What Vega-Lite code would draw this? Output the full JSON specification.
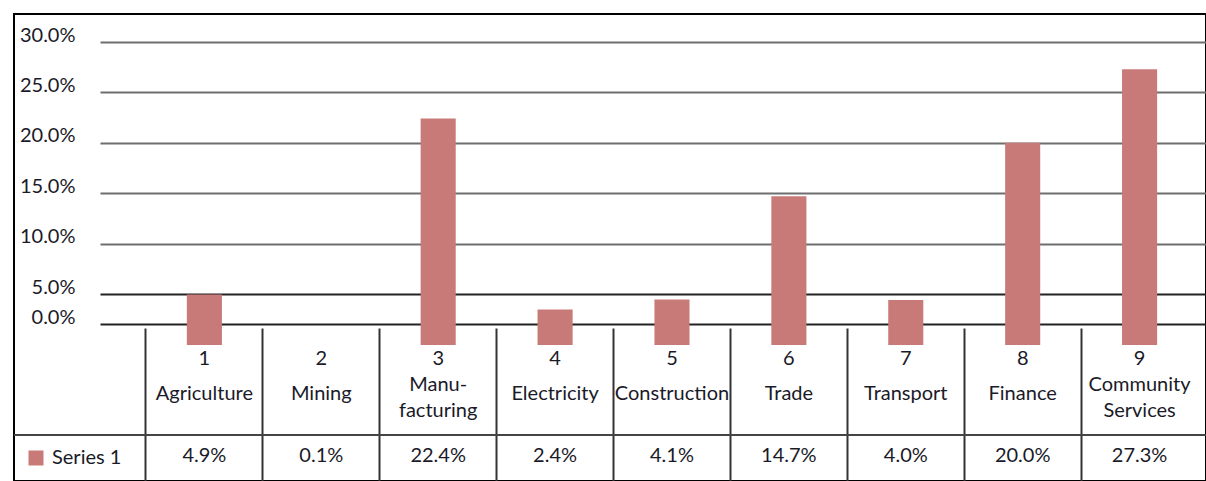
{
  "$schema": "https://vega.github.io/schema/vega-lite/v6.json",
  "width": 1192,
  "height": 467,
  "autosize": {"type": "none"},
  "padding": {"left": 14, "top": 14, "right": 0, "bottom": 0},
  "background": "white",
  "config": {
    "view": {"stroke": "#000000", "strokeWidth": 2},
    "font": "Lato",
    "text": {"font": "Lato", "fontSize": 20, "color": "#1a1a28"}
  },
  "data": {
    "values": [
      {"id": "1", "sector": "Agriculture", "share": 0.049, "series": "Series 1"},
      {"id": "2", "sector": "Mining", "share": 0.001, "series": "Series 1"},
      {"id": "3", "sector": "Manu-\nfacturing", "share": 0.224, "series": "Series 1"},
      {"id": "4", "sector": "Electricity", "share": 0.024, "series": "Series 1"},
      {"id": "5", "sector": "Construction", "share": 0.041, "series": "Series 1"},
      {"id": "6", "sector": "Trade", "share": 0.147, "series": "Series 1"},
      {"id": "7", "sector": "Transport", "share": 0.040, "series": "Series 1"},
      {"id": "8", "sector": "Finance", "share": 0.200, "series": "Series 1"},
      {"id": "9", "sector": "Community\nServices", "share": 0.273, "series": "Series 1"}
    ]
  },
  "encoding": {
    "x": {
      "field": "sector",
      "type": "nominal",
      "sort": null,
      "scale": {"range": [86, 1192], "paddingInner": 0, "paddingOuter": 0.2306, "align": 0.852},
      "axis": {
        "orient": "top",
        "offset": -467,
        "bandPosition": 0,
        "domain": false,
        "labels": false,
        "ticks": true,
        "tickSize": 153,
        "tickColor": "#333333",
        "tickWidth": 2,
        "grid": false,
        "title": null
      }
    }
  },
  "layer": [
    {
      "mark": {"type": "bar", "width": {"band": 0.3}},
      "encoding": {
        "y": {
          "field": "share",
          "type": "quantitative",
          "scale": {"domain": [-0.157, 0, 0.05, 0.30], "range": [467, 310, 280, 28], "nice": false, "zero": false},
          "axis": {
            "values": [0, 0.05, 0.1, 0.15, 0.2, 0.25, 0.3],
            "format": ".1%",
            "orient": "left",
            "offset": -61,
            "domain": false,
            "ticks": false,
            "labelPadding": 0,
            "labelOffset": -7,
            "labelFont": "Lato",
            "labelFontSize": 20,
            "labelColor": "#1a1a28",
            "grid": true,
            "gridWidth": 2,
            "gridColor": {"condition": {"test": "datum.value <= 0.05", "value": "#222222"}, "value": "#6e6e6e"},
            "gridOpacity": 1,
            "title": null
          }
        },
        "y2": {"datum": -0.021},
        "opacity": {"condition": {"test": "datum.share < 0.005", "value": 0}, "value": 1},
        "color": {
          "field": "series",
          "type": "nominal",
          "scale": {"range": ["#c87a78"]},
          "legend": {
            "orient": "none",
            "legendX": 12,
            "legendY": 434,
            "title": null,
            "padding": 0,
            "symbolType": "square",
            "symbolSize": 225,
            "symbolStrokeWidth": 0,
            "symbolOpacity": 1,
            "labelFont": "Lato",
            "labelFontSize": 20,
            "labelColor": "#1a1a28",
            "labelOffset": 6
          }
        }
      }
    },
    {
      "mark": {"type": "rule", "color": "#444444", "strokeWidth": 2},
      "encoding": {"x": null, "y": {"datum": -0.111}}
    },
    {
      "mark": {"type": "text", "baseline": "middle", "align": "center"},
      "encoding": {"text": {"field": "id"}, "y": {"datum": -0.035}}
    },
    {
      "mark": {"type": "text", "baseline": "middle", "align": "center", "lineBreak": "\n", "lineHeight": 26, "dy": {"expr": "indexof(datum.sector, '\\n') >= 0 ? -9 : 0"}},
      "encoding": {"text": {"field": "sector"}, "y": {"datum": -0.07}}
    },
    {
      "mark": {"type": "text", "baseline": "middle", "align": "center"},
      "encoding": {"text": {"field": "share", "format": ".1%"}, "y": {"datum": -0.1315}}
    }
  ]
}
